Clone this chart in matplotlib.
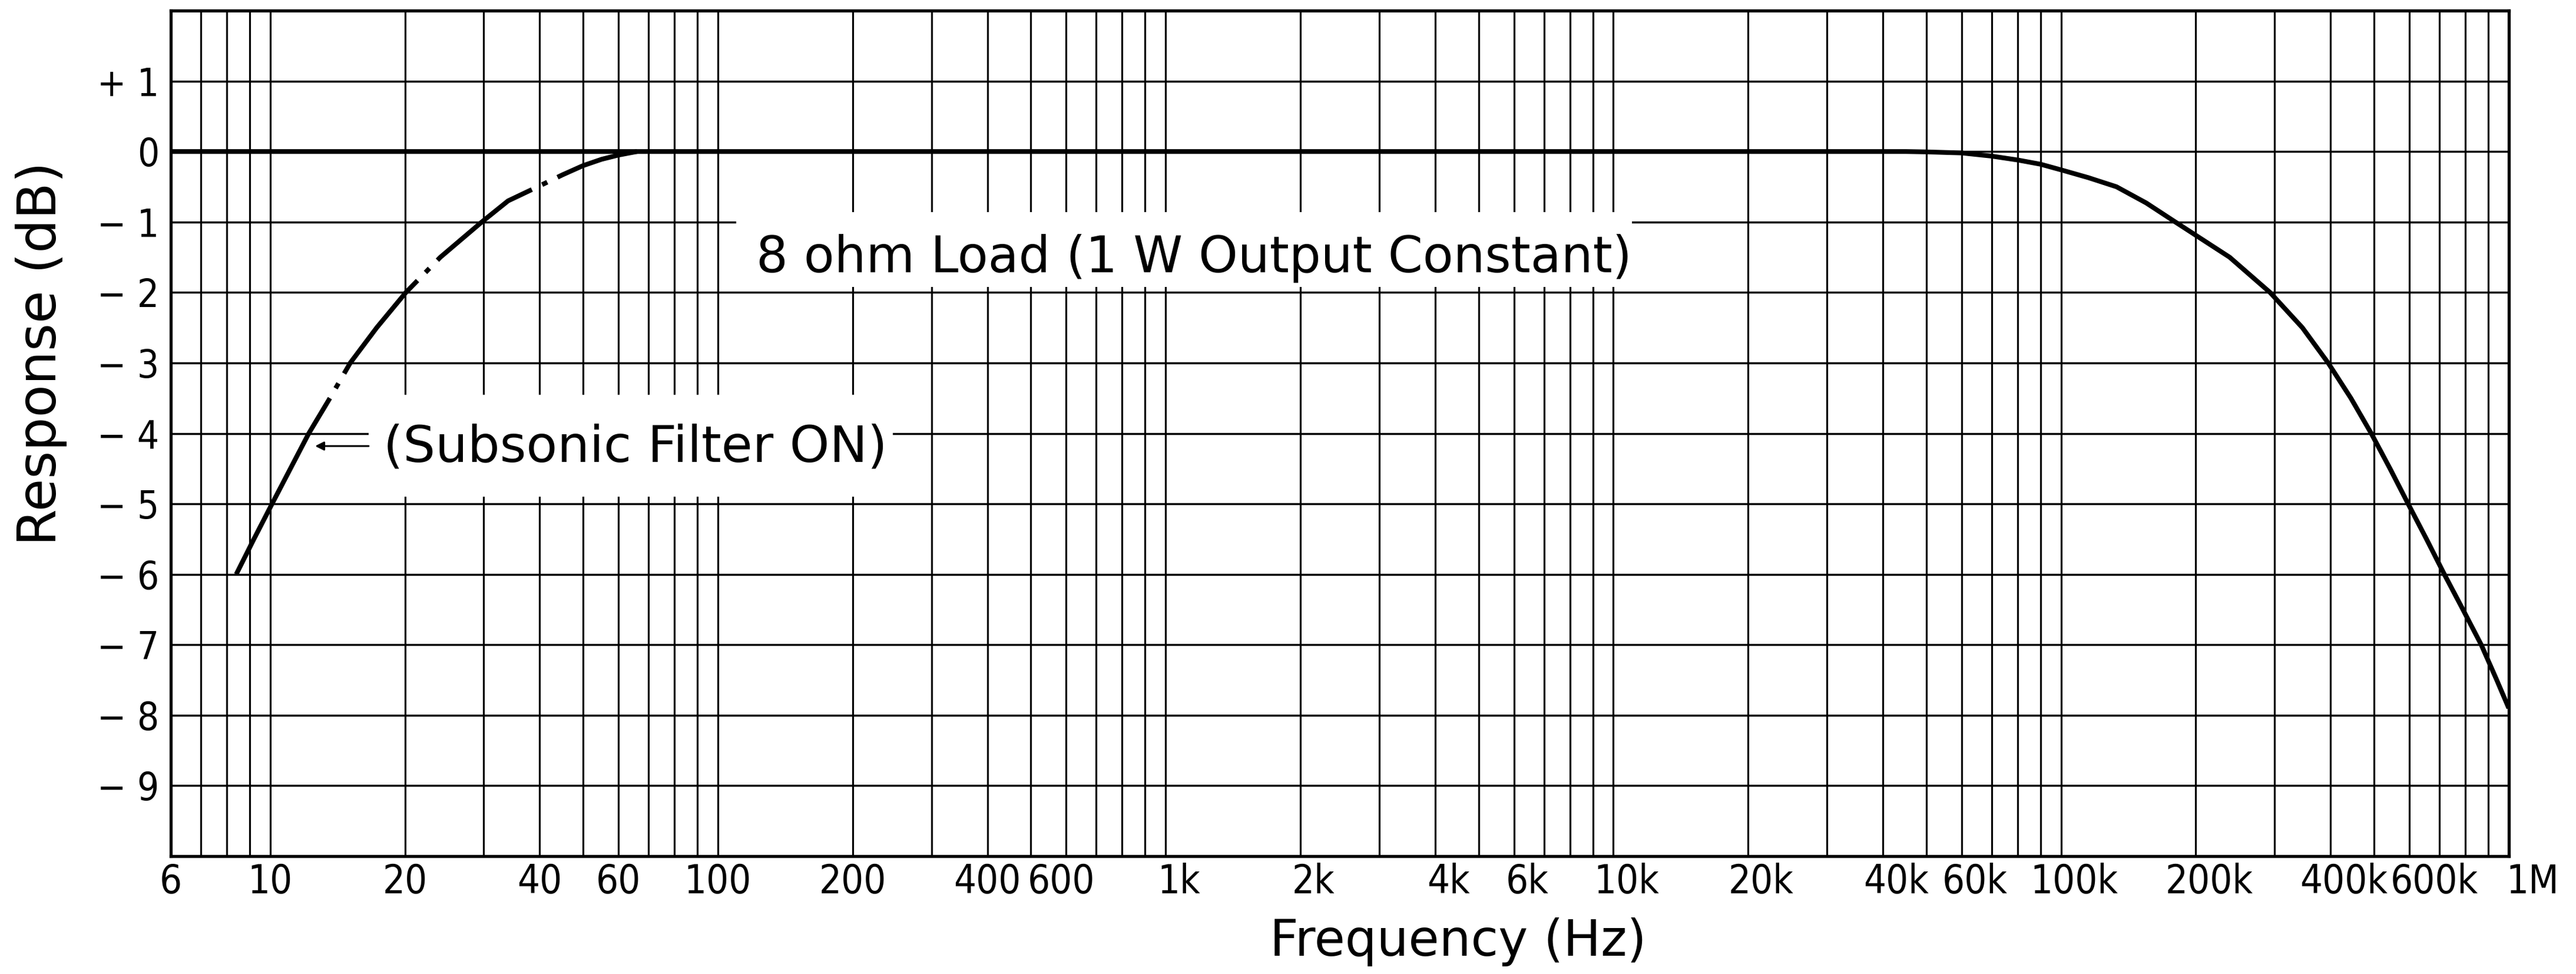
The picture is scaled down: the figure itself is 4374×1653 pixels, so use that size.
import numpy as np
import matplotlib
matplotlib.use("Agg")
import matplotlib.pyplot as plt
from matplotlib import font_manager as fm
from matplotlib.ticker import FixedLocator, LogLocator, NullFormatter
from matplotlib.patches import Rectangle
from matplotlib.transforms import ScaledTranslation

# response without filter (8 ohm, 1 W)
freq_main = [6, 45000, 50000, 60000, 70000, 80000, 90000, 100000, 115000, 133000,
             155000, 180000, 238000, 293000, 346000, 395000, 444000, 493000,
             543000, 596000, 655000, 718000, 790000, 868000, 940000, 1000000]
resp_main = [0, 0, -0.005, -0.02, -0.065, -0.12, -0.18, -0.26, -0.37, -0.5,
             -0.73, -1.0, -1.5, -2.0, -2.5, -3.0, -3.5, -4.0,
             -4.5, -5.0, -5.5, -6.0, -6.5, -7.0, -7.5, -7.9]

# subsonic filter ON
freq_sub = [8.4, 9.2, 10.1, 11.1, 12.2, 13.6, 15.1, 17.3, 20.1, 24.0, 29.7,
            34.0, 39.6, 45.0, 50.0, 55.0, 60.0, 66.0]
resp_sub = [-6.0, -5.5, -5.0, -4.5, -4.0, -3.5, -3.0, -2.5, -2.0, -1.5, -1.0,
            -0.70, -0.5, -0.33, -0.2, -0.11, -0.05, 0.0]
solid_end = 5  # dash-dot part starts here

xtick_vals = [6, 10, 20, 40, 60, 100, 200, 400, 600, 1e3, 2e3, 4e3, 6e3,
              1e4, 2e4, 4e4, 6e4, 1e5, 2e5, 4e5, 6e5, 1e6]
xtick_labels = ['6', '10', '20', '40', '60', '100', '200', '400', '600', '1k',
                '2k', '4k', '6k', '10k', '20k', '40k', '60k', '100k', '200k',
                '400k', '600k', '1M']
ytick_vals = [1, 0, -1, -2, -3, -4, -5, -6, -7, -8, -9]
ytick_labels = ['+ 1', '0'] + ['\u2212 %d' % (-v) for v in ytick_vals[2:]]

# narrow face for the tick numbers if there is one
fonts = fm.fontManager.ttflist
if any(f.name == 'Liberation Sans Narrow' for f in fonts):
    tick_kw = dict(family='Liberation Sans Narrow')
    xsize, ysize = 52, 50
elif any(f.name == 'DejaVu Sans' and f.stretch == 'condensed' for f in fonts):
    tick_kw = dict(family='DejaVu Sans', stretch='condensed')
    xsize, ysize = 48, 47
else:
    tick_kw = dict(family='Liberation Sans')
    xsize, ysize = 44, 48
label_font = ['DejaVu Sans']

fig = plt.figure(figsize=(43.74, 16.53), dpi=100)
ax = fig.add_axes([0.0663, 0.1210, 0.9076, 0.8681])

ax.set_xscale('log')
ax.set_xlim(6, 1e6)
ax.set_ylim(-10, 2)

ax.xaxis.set_major_locator(FixedLocator(xtick_vals))
ax.set_xticklabels(xtick_labels, fontsize=xsize, **tick_kw)
ax.xaxis.set_minor_locator(LogLocator(base=10, subs=np.arange(1, 10), numticks=50))
ax.xaxis.set_minor_formatter(NullFormatter())
ax.set_yticks(ytick_vals)
ax.set_yticklabels(ytick_labels, fontsize=ysize, **tick_kw)

ax.tick_params(axis='x', which='both', length=0, pad=8)
ax.tick_params(axis='y', which='both', length=0, pad=14)

# the printed labels sit a little right of their lines when they carry a unit
label_shift = {'600': -6, '600k': 30, '1M': 29}
for tick, lab in zip(ax.xaxis.get_major_ticks(), xtick_labels):
    shift = label_shift.get(lab, 16 if lab.endswith('k') else 0)
    if shift:
        tick.label1.set_transform(tick.label1.get_transform()
                                  + ScaledTranslation(shift / 72, 0, fig.dpi_scale_trans))

ax.set_axisbelow(True)
ax.grid(True, which='both', axis='x', color='black', linewidth=2.3)
ax.grid(True, which='major', axis='y', color='black', linewidth=2.5)
for s in ax.spines.values():
    s.set_linewidth(3.8)

ax.plot(freq_main, resp_main, color='black', linewidth=5.8,
        solid_capstyle='butt', solid_joinstyle='round', zorder=3)
ax.plot(freq_sub[:solid_end + 1], resp_sub[:solid_end + 1], color='black',
        linewidth=5.8, solid_capstyle='butt', solid_joinstyle='round', zorder=3)
ax.plot(freq_sub[solid_end:], resp_sub[solid_end:], color='black', linewidth=5.8,
        linestyle=(25, (25, 2.4, 1.2, 2.4)), dash_capstyle='butt', zorder=3)

# white-out behind the labels
ax.add_patch(Rectangle((110, -1.92), 11000 - 110, 1.06, facecolor='white',
                       edgecolor='none', zorder=1.5))
ax.add_patch(Rectangle((16.6, -4.9), 246 - 16.6, 1.45, facecolor='white',
                       edgecolor='none', zorder=1.5))

ax.text(121.7, -1.71, '8 ohm Load (1 W Output Constant)', fontsize=61,
        family=label_font, ha='left', va='baseline', zorder=4)
ax.text(17.9, -4.40, '(Subsonic Filter ON)', fontsize=62,
        family=label_font, ha='left', va='baseline', zorder=4)
ax.annotate('', xy=(12.6, -4.18), xytext=(16.6, -4.18),
            arrowprops=dict(arrowstyle='-|>', color='black', lw=2.2,
                            mutation_scale=22, shrinkA=0, shrinkB=0), zorder=4)

fig.text(0.016, 0.637, 'Response (dB)', rotation=90, fontsize=65,
         family=label_font, ha='center', va='center')
fig.text(0.566, 0.033, 'Frequency (Hz)', fontsize=61, family=label_font,
         ha='center', va='center')

fig.savefig('out.png', dpi=100, facecolor='white')
